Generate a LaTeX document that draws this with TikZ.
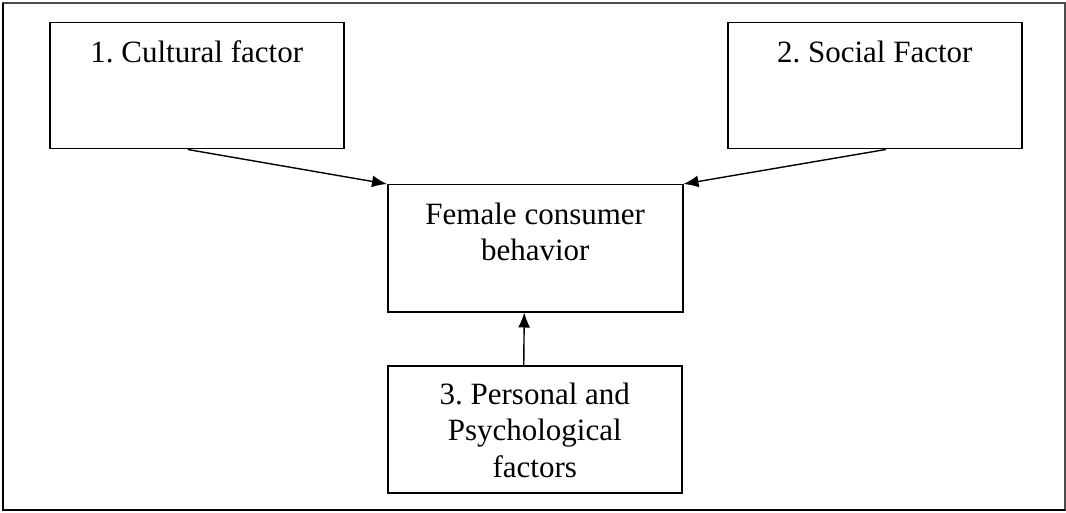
\documentclass[tikz,border=0pt]{standalone}
\usepackage{fontspec}
\setmainfont{Liberation Serif}
\usetikzlibrary{arrows.meta}
\tikzset{
  box/.style={draw, line width=1.5pt, inner sep=0pt, minimum width=294pt, minimum height=126pt, anchor=north west},
  txt/.style={inner sep=0pt, anchor=north, align=center, font=\fontsize{31}{36.5}\selectfont},
  conn/.style={line width=1.4pt, -{Latex[length=15pt,width=12pt]}}
}
\begin{document}
\begin{tikzpicture}[x=1pt,y=-1pt]
\useasboundingbox (0,0) rectangle (1066,513);
% outer frame
\draw[draw=gray!60!black, line width=1.2pt] (3,3) rectangle (1065,510);
\draw[line width=2.2pt] (3,3) -- (3,510) -- (1065,510);
% boxes
\node[box] (cult) at (49,22) {};
\node[box] (soc) at (727,22) {};
\node[box, minimum width=295pt, minimum height=127pt] (fem) at (387,184) {};
\node[box, minimum height=127pt] (pers) at (387,365) {};
% texts
\node[txt] (cultT) at ([yshift=-18.5pt]cult.north) {1.\ Cultural factor};
\node[txt] (socT) at ([yshift=-18.5pt]soc.north) {2.\ Social Factor};
\node[txt] (femT) at ([yshift=-18.5pt]fem.north) {Female consumer\\behavior};
\node[txt] (persT) at ([yshift=-17.5pt]pers.north) {3.\ Personal and\\Psychological\\factors};
% connectors
\draw[conn] ([xshift=-9pt]cult.south) -- (fem.north west);
\draw[conn] ([xshift=11pt]soc.south) -- (fem.north east);
\draw[conn] ([xshift=-11pt]pers.north) -- ([xshift=-11pt]fem.south);
\end{tikzpicture}
\end{document}
